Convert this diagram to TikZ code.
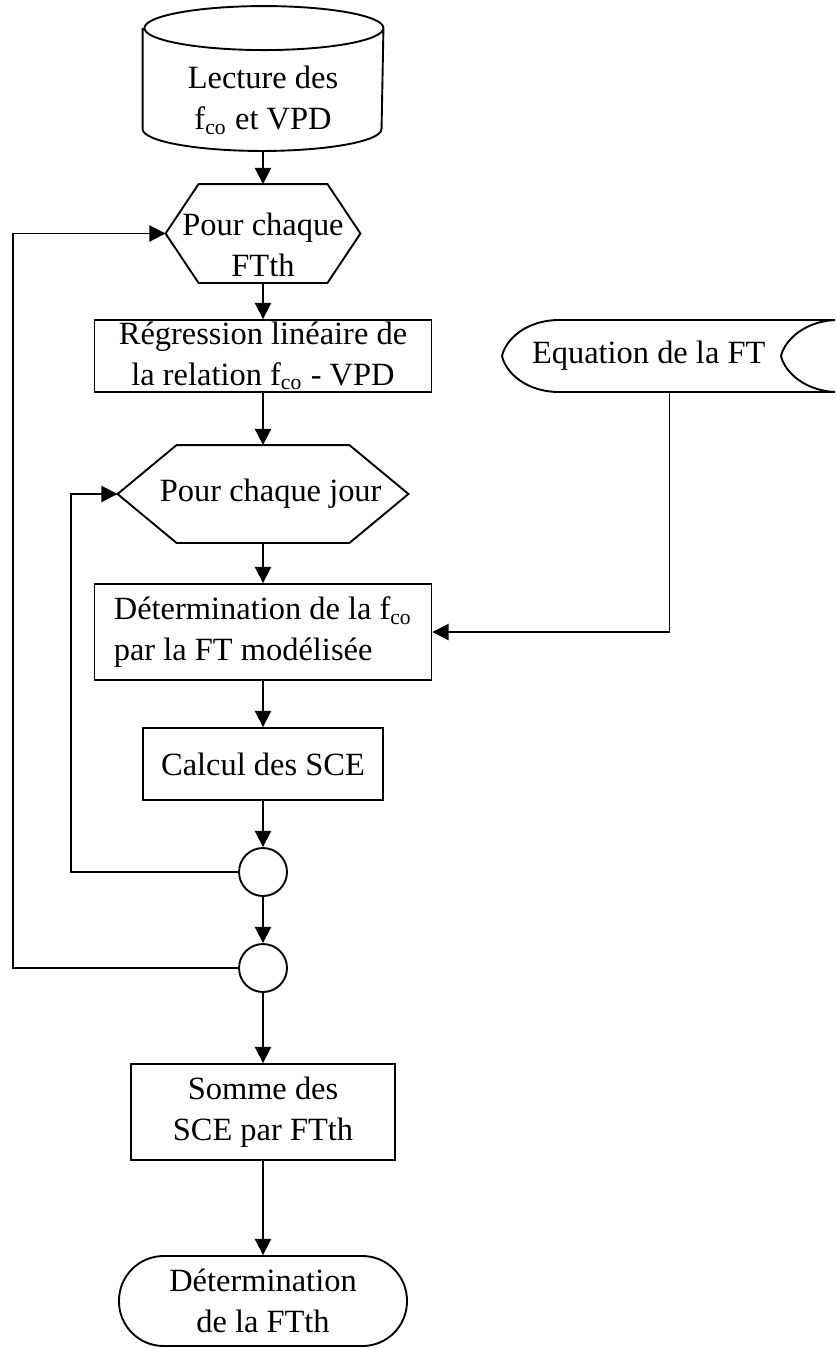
\documentclass[tikz,border=0pt]{standalone}
\usepackage{fontspec}
\setmainfont{Liberation Serif}
\usetikzlibrary{arrows.meta}
\usetikzlibrary{calc}

\begin{document}
\begin{tikzpicture}[x=0.013cm,y=-0.013cm,->,>={Triangle[length=6pt,width=6pt]},line width=0.7pt,
        box/.style={rectangle,draw=black,inner sep=0pt,align=center},
        hexa/.style={rectangle,inner sep=0pt,align=center},
        joint/.style={circle,draw=black,inner sep=0pt,minimum size=0.624cm},
        every node/.style={font=\fontsize{12}{15}\selectfont}]
        \useasboundingbox (0,0) rectangle (836,1349);
        \node[hexa,minimum width=3.107cm,minimum height=1.287cm] (lect) at (263,100.5) {Lecture des\\f\textsubscript{co} et VPD};
        \node[hexa,minimum width=2.509cm,minimum height=1.261cm] (ftth) at (263,233.5) {};
        \node[hexa] (ftthtxt) at ([yshift=-0.15cm]ftth.center) {Pour chaque\\FTth};
        \node[box,minimum width=4.381cm,minimum height=0.936cm]  (regr) at (263,356) {R\'egression lin\'eaire de\\la relation f\textsubscript{co} - VPD};
        \node[hexa,minimum width=3.757cm,minimum height=1.248cm] (jour) at (263,494) {\hspace{0.2cm}Pour chaque jour};
        \node[box,align=left,minimum width=4.381cm,minimum height=1.248cm] (det) at (263,632) {D\'etermination de la f\textsubscript{co}\\par la FT mod\'elis\'ee};
        \node[box,minimum width=3.12cm,minimum height=0.936cm]   (sce) at (263,764) {Calcul des SCE};
        \node[joint] (c1) at (263,872) {};
        \node[joint] (c2) at (263,968) {};
        \node[box,minimum width=3.432cm,minimum height=1.248cm]  (somme) at (263,1112) {Somme des\\SCE par FTth};
        \node[box,rounded corners=0.58cm,minimum width=3.744cm,minimum height=1.17cm] (fin) at (263,1301) {D\'etermination\\de la FTth};
        \node[hexa,align=flush left,inner xsep=0.377cm,text width=3.575cm,minimum height=0.936cm] (eq) at (669.5,356) {Equation de la FT};
        \coordinate (l1) at (71,0);
        \coordinate (l2) at (13,0);
        % contours
        \draw[-] ([yshift=0.286cm]lect.north west) -- ([yshift=0.286cm]lect.south west)
          arc[start angle=180,end angle=360,x radius=1.5535cm,y radius=0.286cm]
          -- ([yshift=0.286cm]lect.north east)
          arc[start angle=0,end angle=360,x radius=1.5535cm,y radius=0.286cm];
        \draw[-] (ftth.west) -- ([xshift=0.429cm]ftth.north west) -- ([xshift=-0.429cm]ftth.north east) -- (ftth.east)
          -- ([xshift=-0.429cm]ftth.south east) -- ([xshift=0.429cm]ftth.south west) -- cycle;
        \draw[-] (jour.west) -- ([xshift=0.767cm]jour.north west) -- ([xshift=-0.767cm]jour.north east) -- (jour.east)
          -- ([xshift=-0.767cm]jour.south east) -- ([xshift=0.767cm]jour.south west) -- cycle;
        \begin{scope}[shift={(eq.west)}]
          \draw[-] (54,-36) -- (333,-36) .. controls (297,-34) and (281,-11) .. (279,0)
            .. controls (281,11) and (297,34) .. (333,36) -- (54,36)
            .. controls (17,34) and (2,11) .. (0,0) .. controls (2,-11) and (17,-34) .. (54,-36) -- cycle;
        \end{scope}
        % connecteurs
        \path
          (lect) edge (ftth)
          (ftth) edge (regr)
          (regr) edge (jour)
          (jour) edge (det)
          (det) edge (sce)
          (sce) edge (c1)
          (c1) edge (c2)
          (c2) edge (somme)
          (somme) edge (fin);
        \draw (eq.south) |- (det.east);
        \draw (c1.west) -- (c1.west -| l1) |- (jour.west);
        \draw (c2.west) -- (c2.west -| l2) |- (ftth.west);
      \end{tikzpicture}
\end{document}
